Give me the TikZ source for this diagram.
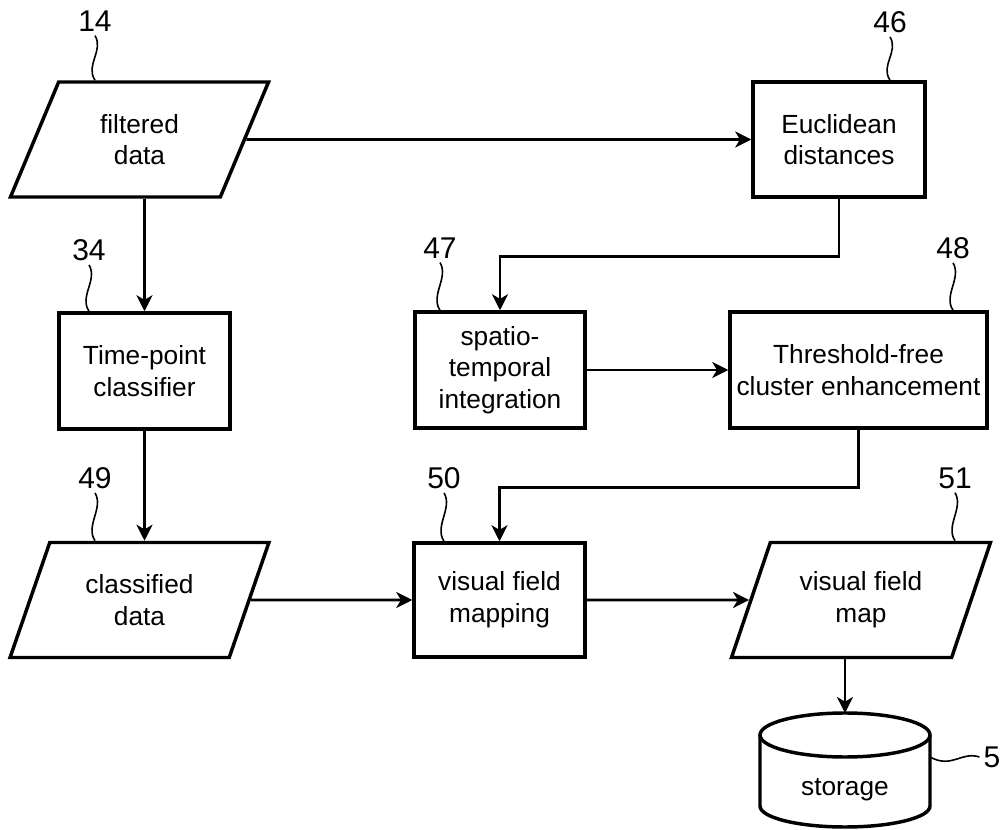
\documentclass[tikz,border=0pt]{standalone}
\usepackage{fontspec}
\setmainfont{Liberation Sans}
\usetikzlibrary{arrows.meta,shapes.geometric}

\begin{document}
\begin{tikzpicture}[x=0.75pt,y=0.75pt,yscale=-1,xscale=1,
	block/.style={draw, line width=2.6pt, rectangle, align=center, inner sep=2pt, font=\fontsize{19.7}{23.8}\selectfont},
	iobox/.style={draw, line width=2.6pt, trapezium, trapezium left angle=66, trapezium right angle=114, trapezium stretches=true, align=center, inner sep=2pt, minimum width=194.25pt, minimum height=86.25pt, font=\fontsize{19.7}{23.8}\selectfont},
	refnum/.style={inner sep=3pt, font=\fontsize{22.5}{27}\selectfont},
	lead/.style={line width=1.2pt},
	conn/.style={line width=2.2pt, -{Stealth[length=12pt,width=12pt,inset=3.5pt]}}]
	\useasboundingbox (0,0) rectangle (1008,830); %set diagram to 1008 x 830

	% Data Node
	\node[iobox] (filtered) at (139.5,139.5) {filtered\\data};
	% Data Node
	\node[iobox] (classified) at (139.5,600) {classified\\data};
	% Data Node
	\node[iobox] (map) at (861,600) {visual field\\map};
	% Process Node
	\node[block, minimum width=129pt, minimum height=86.25pt] (euclid) at (839,139.5) {Euclidean\\distances};
	% Process Node
	\node[block, minimum width=128.25pt, minimum height=87pt] (timept) at (144.5,371) {Time-point\\classifier};
	% Process Node
	\node[block, minimum width=127.5pt, minimum height=87pt] (spatio) at (500,370) {spatio-\\temporal\\integration};
	% Process Node
	\node[block, minimum width=192.75pt, minimum height=87pt] (tfce) at (858.5,370) {Threshold-free\\cluster enhancement};
	% Process Node
	\node[block, minimum width=128.25pt, minimum height=85.5pt] (vfmap) at (499.5,600) {visual field\\mapping};
	% Storage
	\coordinate (stortop) at (845,713);
	\coordinate (storside) at (930,757);
	\draw[line width=2.6pt] (845,735) ellipse [x radius=85, y radius=22];
	\draw[line width=2.6pt] (760,735) -- (760,806) arc [start angle=180, end angle=0, x radius=85, y radius=21] -- (930,735);
	\node[font=\fontsize{19.7}{23.8}\selectfont] (storage) at (845,790) {storage};

	% Label
	\node[refnum] (n14) at (95,21) {14};
	\draw[lead] (n14.south) .. controls +(9,15) and +(-10,-15) .. (n14.south |- filtered.north);
	% Label
	\node[refnum] (n46) at (890,22) {46};
	\draw[lead] (n46.south) .. controls +(9,15) and +(-10,-15) .. (n46.south |- euclid.north);
	% Label
	\node[refnum] (n34) at (89,250) {34};
	\draw[lead] (n34.south) .. controls +(9,15) and +(-10,-15) .. (n34.south |- timept.north);
	% Label
	\node[refnum] (n47) at (440,248) {47};
	\draw[lead] (n47.south) .. controls +(9,15) and +(-10,-15) .. (n47.south |- spatio.north);
	% Label
	\node[refnum] (n48) at (953,248) {48};
	\draw[lead] (n48.south) .. controls +(9,15) and +(-10,-15) .. (n48.south |- tfce.north);
	% Label
	\node[refnum] (n49) at (95,478) {49};
	\draw[lead] (n49.south) .. controls +(9,15) and +(-10,-15) .. (n49.south |- classified.north);
	% Label
	\node[refnum] (n50) at (444,478) {50};
	\draw[lead] (n50.south) .. controls +(9,15) and +(-10,-15) .. (n50.south |- vfmap.north);
	% Label
	\node[refnum] (n51) at (955,478) {51};
	\draw[lead] (n51.south) .. controls +(9,15) and +(-10,-15) .. (n51.south |- map.north);
	% Label
	\node[refnum] (n5) at (992,757) {5};
	\draw[lead] (storside) .. controls +(22,12) and +(-18,-6) .. (n5.west);

	% Connection
	\draw[conn] (filtered.east) -- (euclid.west);
	% Connection
	\draw[conn] (filtered.south -| timept.north) -- (timept.north);
	% Connection
	\draw[conn] (timept.south) -- (classified.north -| timept.south);
	% Connection
	\draw[conn] (classified.east) -- (vfmap.west);
	% Connection
	\draw[conn] (vfmap.east) -- (map.west);
	% Connection
	\draw[conn] (euclid.south) -- ++(0,58) -| (spatio.north);
	% Connection
	\draw[conn] (spatio.east) -- (tfce.west);
	% Connection
	\draw[conn] (tfce.south) -- ++(0,58) -| (vfmap.north);
	% Connection
	\draw[conn] (map.south -| stortop) -- (stortop);

\end{tikzpicture}
\end{document}
